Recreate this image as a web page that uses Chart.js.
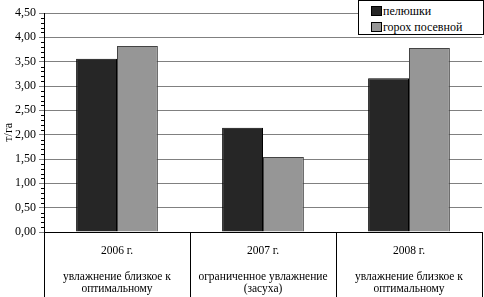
<!DOCTYPE html>
<html>
<head>
<meta charset="utf-8">
<script src="https://cdn.jsdelivr.net/npm/chart.js@4.4.1/dist/chart.umd.min.js"></script>
<style>
  html, body { margin: 0; padding: 0; background: #fff; }
  #wrap { position: relative; width: 484px; height: 297px; }
  #legend {
    position: absolute; left: 358px; top: 0; width: 126px; height: 35px;
    background: #fff; border: 1px solid #000; box-sizing: border-box;
    font-family: "Liberation Serif", "DejaVu Serif", serif; font-size: 12px; color: #000;
  }
  #legend div { position: absolute; left: 12px; white-space: nowrap; }
  #legend span { display: inline-block; width: 11px; height: 10px; margin-right: 1px; vertical-align: -1px; border: 1px solid #000; box-sizing: border-box; }
</style>
</head>
<body>
<div id="wrap">
  <canvas id="c" width="484" height="297"></canvas>
  <div id="legend">
    <div style="top:3px"><span style="background:#262626"></span>пелюшки</div>
    <div style="top:19px"><span style="background:#969696"></span>горох посевной</div>
  </div>
</div>
<script>
const categories = [
  ['2006 г.', '', 'увлажнение близкое к', 'оптимальному'],
  ['2007 г.', '', 'ограниченное увлажнение', '(засуха)'],
  ['2008 г.', '', 'увлажнение близкое к', 'оптимальному']
];
const peluski = [3.56, 2.14, 3.16];
const gorokh = [3.82, 1.54, 3.78];
const yTicks = [0, 0.5, 1, 1.5, 2, 2.5, 3, 3.5, 4, 4.5];
const yTitle = 'т/га';

const serif = '"Liberation Serif", "DejaVu Serif", serif';

// minor ticks on the value axis and the unit label, like the original
const axisExtras = {
  id: 'axisExtras',
  afterDraw(chart) {
    const y = chart.scales.y;
    const ctx = chart.ctx;
    const x0 = chart.chartArea.left;
    ctx.save();
    ctx.strokeStyle = '#000';
    ctx.lineWidth = 1;
    for (let i = 0; i <= 45; i++) {
      if (i % 5 === 0) continue;
      const py = Math.round(y.getPixelForValue(i / 10)) + 0.5;
      ctx.beginPath();
      ctx.moveTo(x0 - 3, py);
      ctx.lineTo(x0, py);
      ctx.stroke();
    }
    ctx.translate(9, y.getPixelForValue(2.05));
    ctx.rotate(-Math.PI / 2);
    ctx.fillStyle = '#000';
    ctx.font = '12px ' + serif;
    ctx.textAlign = 'center';
    ctx.textBaseline = 'middle';
    ctx.fillText(yTitle, 0, 0);
    ctx.restore();
  }
};

new Chart(document.getElementById('c'), {
  type: 'bar',
  data: {
    labels: categories,
    datasets: [
      {
        label: 'пелюшки',
        data: peluski,
        backgroundColor: '#262626',
        borderColor: '#000',
        borderWidth: 1
      },
      {
        label: 'горох посевной',
        data: gorokh,
        backgroundColor: '#969696',
        borderColor: '#444',
        borderWidth: 1
      }
    ]
  },
  options: {
    responsive: false,
    animation: false,
    layout: { padding: { top: 13, right: 2, left: 0, bottom: 0 } },
    plugins: { legend: { display: false }, tooltip: { enabled: false } },
    datasets: { bar: { categoryPercentage: 0.56, barPercentage: 1 } },
    scales: {
      x: {
        grid: {
          offset: true,
          drawOnChartArea: false,
          tickLength: 65,
          color: '#000'
        },
        border: { color: '#000' },
        ticks: {
          color: '#000',
          font: { family: serif, size: 11.5, lineHeight: 1.13 },
          padding: -53,
          maxRotation: 0,
          autoSkip: false
        },
        afterFit(s) { s.height = 65; }
      },
      y: {
        min: 0,
        max: 4.5,
        afterBuildTicks(s) { s.ticks = yTicks.map(v => ({ value: v })); },
        grid: { color: '#808080', tickLength: 5 },
        border: { color: '#000' },
        ticks: {
          color: '#000',
          font: { family: serif, size: 12 },
          padding: 3,
          callback: v => v.toFixed(2).replace('.', ',')
        },
        afterFit(s) { s.width = 44; }
      }
    }
  },
  plugins: [axisExtras]
});
</script>
</body>
</html>
